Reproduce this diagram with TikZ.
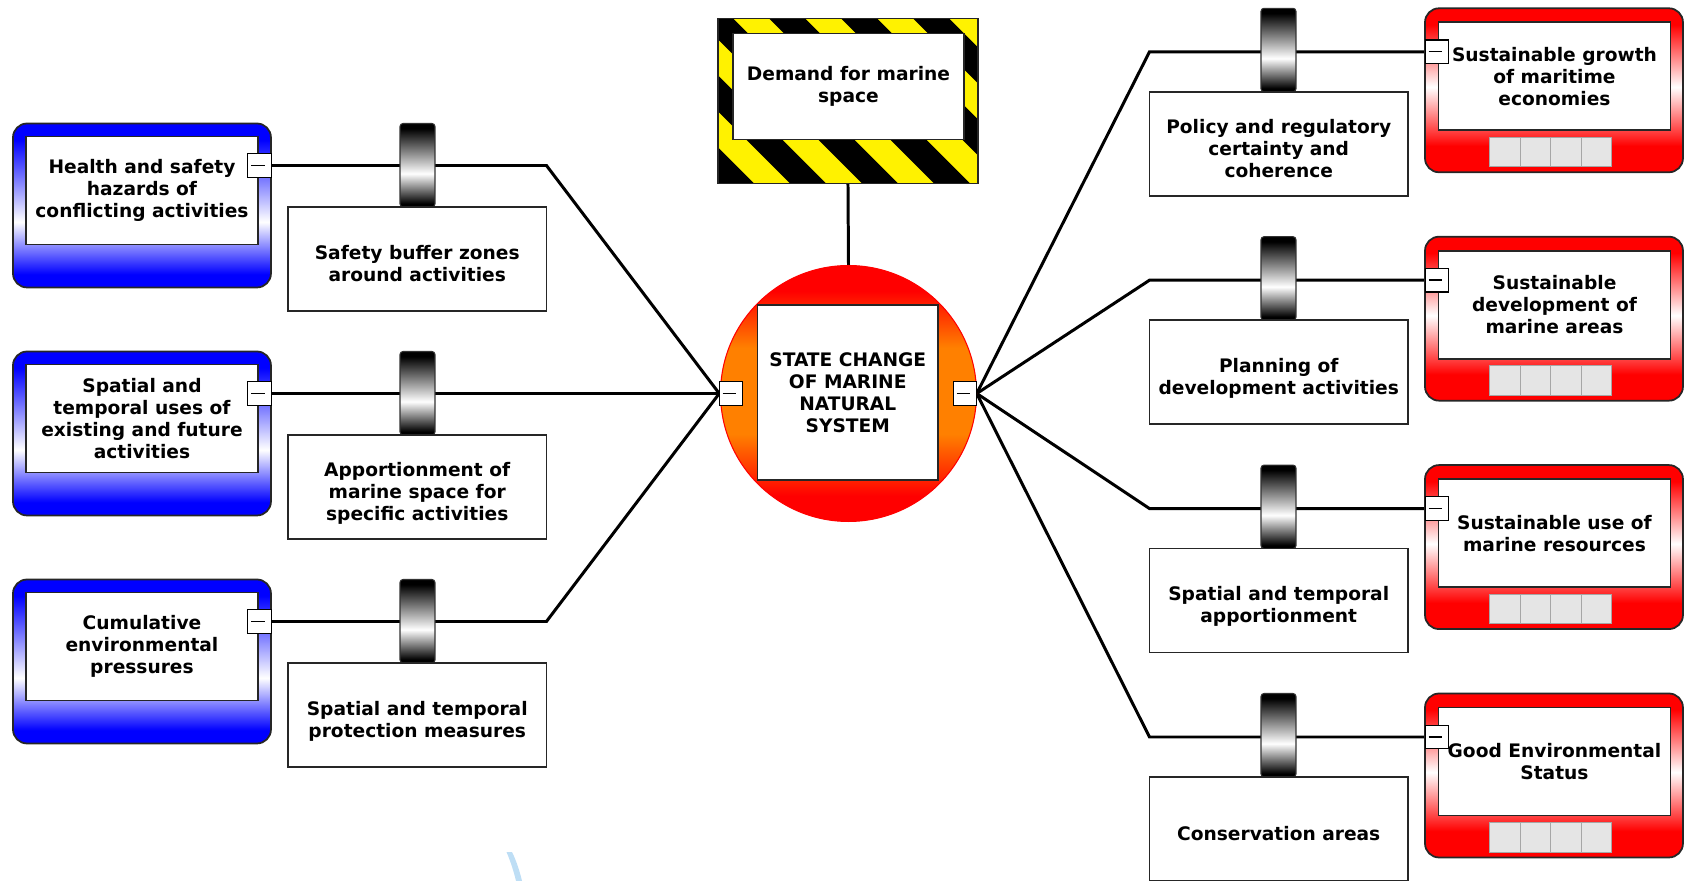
\documentclass[tikz,border=0pt]{standalone}
\usepackage{fontspec}
\setmainfont{DejaVu Sans}
\usetikzlibrary{backgrounds}
\definecolor{wmblue}{RGB}{190,222,245}
\pgfdeclareverticalshading{bluegrad}{100bp}{color(0bp)=(blue); color(29bp)=(blue); color(45bp)=(white); color(70bp)=(blue); color(100bp)=(blue)}
\pgfdeclareverticalshading{redgrad}{100bp}{color(0bp)=(red); color(33bp)=(red); color(51bp)=(white); color(70bp)=(red); color(100bp)=(red)}
\pgfdeclareverticalshading{bargrad}{100bp}{color(0bp)=(black); color(27bp)=(black); color(45bp)=(white); color(72bp)=(black); color(100bp)=(black)}
\pgfdeclareverticalshading{circgrad}{100bp}{color(0bp)=(red); color(30bp)=(red); color(42bp)=(orange); color(59bp)=(orange); color(70bp)=(red); color(100bp)=(red)}
\newcommand{\diagfont}{\bfseries\fontsize{10.6}{12.5}\selectfont}
\newcommand{\boxtext}[1]{\raisebox{-0.14cm}[\height][\depth]{\begin{tabular}{@{}c@{}}#1\end{tabular}}}

\begin{document}
\begin{tikzpicture}[x=0.02cm, y=-0.02cm,
		outerbox/.style={anchor=north west, inner sep=0, outer sep=0, minimum width=5.16cm, minimum height=3.28cm, rounded corners=0.28cm, draw=black!85, line width=1pt, shade},
		bluebox/.style={outerbox, shading=bluegrad},
		redbox/.style={outerbox, shading=redgrad},
		innerbox/.style={anchor=north west, inner sep=0, outer sep=0, minimum width=4.64cm, minimum height=2.16cm, fill=white, draw=black!85, line width=1pt, align=center, font=\diagfont},
		textbox/.style={anchor=north west, inner sep=0, outer sep=0, minimum width=5.17cm, minimum height=2.08cm, fill=white, draw=black!85, line width=0.9pt, font=\diagfont},
		barnode/.style={anchor=north west, inner sep=0, outer sep=0, minimum width=0.7cm, minimum height=1.67cm, rounded corners=0.06cm, draw=black!80, line width=0.6pt, shade, shading=bargrad},
		togglenode/.style={inner sep=0, outer sep=0, minimum size=0.47cm, fill=white, draw=black, line width=0.7pt,
			path picture={\draw[line width=0.8pt] ([xshift=-0.17cm]path picture bounding box.center) -- ([xshift=0.1cm]path picture bounding box.center);}},
		greysq/.style={anchor=north west, inner sep=0, outer sep=0, minimum width=0.61cm, minimum height=0.59cm, fill=black!10, draw=black!35, line width=0.5pt},
		link/.style={line width=1.7pt}]
	\useasboundingbox (0,0) rectangle (1684,881);

	\node [anchor=north west, inner sep=0, outer sep=0, minimum width=5.2cm, minimum height=3.3cm, fill=yellow] (dem) at (718,18.7) {};
	\begin{scope}
		\clip (dem.north west) rectangle (dem.south east);
		\foreach \k in {-4,...,3}
			\fill [black] (750.6+72*\k,0) -- ++(36,0) -- ++(200,200) -- ++(-36,0) -- cycle;
	\end{scope}
	\draw [black!85, line width=0.8pt] (dem.north west) rectangle (dem.south east);
	\node [innerbox, minimum width=4.62cm, minimum height=2.12cm] (dem_in) at (733,33.5) {Demand for marine\\space};

	\node [circle, inner sep=0, minimum size=5.12cm, draw=red, line width=0.6pt, shade, shading=circgrad] (sys) at (848.5,393.5) {};
	\node [innerbox, anchor=center, minimum width=3.61cm, minimum height=3.5cm] (sys_in) at (847.75,392.5) {STATE CHANGE\\OF MARINE\\NATURAL\\SYSTEM};
	\node [togglenode] (tog_l) at (731,393.5) {};
	\node [togglenode] (tog_r) at (965,393.5) {};

	\foreach \i/\y/\ltxt/\mtxt in {1/123.5/{Health and safety\\hazards of\\conflicting activities}/{Safety buffer zones\\around activities}, 2/351.5/{Spatial and\\temporal uses of\\existing and future\\activities}/{Apportionment of\\marine space for\\specific activities}, 3/579.5/{Cumulative\\environmental\\pressures}/{Spatial and temporal\\protection measures}}
	{
		\node [bluebox] (lb_\i) at (13,\y) {};
		\node [innerbox] (lbi_\i) at (26,\y+13) {\ltxt};
		\node [togglenode] (lt_\i) at (259.5,\y+42) {};
		\node [barnode] (lc_\i) at (400,\y) {};
		\node [textbox] (lm_\i) at (288,\y+83.5) {\boxtext{\mtxt}};
	}

	\foreach \i/\y/\rtxt/\mtxt in {1/8.3/{Sustainable growth\\of maritime\\economies}/{Policy and regulatory\\certainty and\\coherence}, 2/236.7/{Sustainable\\development of\\marine areas}/{Planning of\\development activities}, 3/465.1/{Sustainable use of\\marine resources}/{Spatial and temporal\\apportionment}, 4/693.5/{Good Environmental\\Status}/{Conservation areas}}
	{
		\node [redbox] (rb_\i) at (1425,\y) {};
		\node [innerbox] (rbi_\i) at (1438.5,\y+14) {\rtxt};
		\node [togglenode] (rt_\i) at (1437,\y+43.5) {};
		\foreach \k in {0,...,3}
			\node [greysq] (sq_\i_\k) at (1489.5+30.6*\k,\y+129) {};
		\node [barnode] (rc_\i) at (1261,\y) {};
		\node [textbox] (rm_\i) at (1149.5,\y+83.5) {\boxtext{\mtxt}};
	}

	\begin{scope}[on background layer]
		\foreach \i in {1,2,3}
			\draw [link] (lt_\i.east) -- (lm_\i.east |- lt_\i.east) -- (tog_l.west);
		\foreach \i in {1,...,4}
			\draw [link] (tog_r.east) -- (rm_\i.west |- rt_\i.west) -- (rt_\i.west);
		\draw [link] (dem.south) -- (sys.north);
	\end{scope}

	\fill [wmblue] (506.5,852) .. controls (510,860) and (514,872) .. (516,881) -- (522,881) .. controls (519,868) and (515,858) .. (512,852) -- cycle;
\end{tikzpicture}
\end{document}
